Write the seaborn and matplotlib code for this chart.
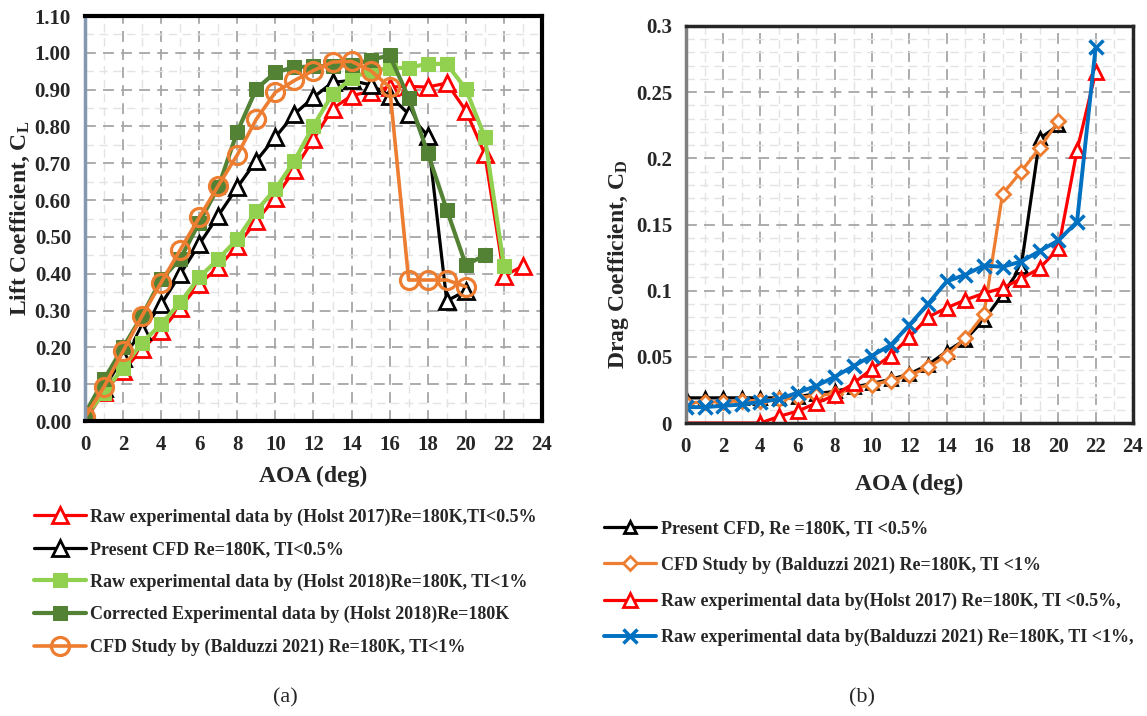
import numpy as np
import pandas as pd
import matplotlib
matplotlib.use('Agg')
import matplotlib.pyplot as plt
from matplotlib.ticker import MultipleLocator, FormatStrFormatter, FuncFormatter
import seaborn as sns

# ---- lift data (a) ----
aoa_holst17 = list(range(0, 24))
cl_holst17 = [0.00, 0.08, 0.136, 0.195, 0.245, 0.308, 0.372, 0.417, 0.476, 0.544, 0.606, 0.683,
              0.766, 0.848, 0.884, 0.895, 0.907, 0.909, 0.907, 0.918, 0.843, 0.725, 0.394, 0.421]
aoa_cfd = list(range(0, 21))
cl_cfd = [0.00, 0.09, 0.172, 0.245, 0.317, 0.399, 0.48, 0.558, 0.635, 0.707, 0.771, 0.834,
          0.879, 0.92, 0.925, 0.913, 0.884, 0.834, 0.775, 0.326, 0.354]
aoa_holst18 = list(range(0, 23))
cl_holst18 = [0.01, 0.077, 0.145, 0.213, 0.263, 0.322, 0.39, 0.44, 0.494, 0.571, 0.63, 0.707,
              0.802, 0.888, 0.931, 0.952, 0.958, 0.96, 0.97, 0.97, 0.902, 0.771, 0.421]
aoa_holst18c = list(range(0, 22))
cl_holst18c = [0.02, 0.113, 0.20, 0.286, 0.385, 0.44, 0.539, 0.635, 0.786, 0.902, 0.947, 0.961,
               0.963, 0.965, 0.967, 0.981, 0.993, 0.878, 0.728, 0.574, 0.424, 0.45]
aoa_bald = list(range(0, 21))
cl_bald = [0.01, 0.093, 0.19, 0.286, 0.376, 0.465, 0.553, 0.639, 0.723, 0.82, 0.893, 0.925,
           0.952, 0.975, 0.977, 0.952, 0.907, 0.383, 0.383, 0.383, 0.365]

# ---- drag data (b) ----
aoa_cd_cfd = list(range(0, 21))
cd_cfd = [0.019, 0.019, 0.019, 0.019, 0.019, 0.019, 0.020, 0.022, 0.024, 0.027, 0.030, 0.033,
          0.037, 0.044, 0.054, 0.063, 0.078, 0.097, 0.118, 0.215, 0.225]
aoa_cd_bald = list(range(0, 21))
cd_bald = [0.015, 0.016, 0.016, 0.017, 0.017, 0.018, 0.019, 0.021, 0.022, 0.026, 0.029, 0.032,
           0.036, 0.042, 0.051, 0.064, 0.082, 0.173, 0.19, 0.208, 0.228]
aoa_cd_holst17 = list(range(0, 23))
cd_holst17 = [0.0, 0.0, 0.0, 0.0, 0.0, 0.005, 0.009, 0.015, 0.021, 0.030, 0.041, 0.051,
              0.065, 0.080, 0.087, 0.093, 0.098, 0.102, 0.109, 0.117, 0.132, 0.206, 0.265]
aoa_cd_baldexp = list(range(0, 23))
cd_baldexp = [0.012, 0.012, 0.013, 0.014, 0.016, 0.018, 0.023, 0.028, 0.035, 0.043, 0.051, 0.059,
              0.074, 0.090, 0.107, 0.112, 0.119, 0.118, 0.122, 0.130, 0.138, 0.152, 0.284]

sns.set_theme(style='white')
plt.rcParams['font.family'] = ['Liberation Serif', 'DejaVu Serif']
plt.rcParams['font.weight'] = 'bold'
plt.rcParams['mathtext.default'] = 'regular'

RED = '#FF0000'
LGREEN = '#92D050'
DGREEN = '#548235'
ORANGE = '#ED7D31'
BLUE = '#0070C0'

fig = plt.figure(figsize=(11.47, 7.16), dpi=100)
ax1 = fig.add_axes([0.0741, 0.412, 0.3984, 0.5656])
ax2 = fig.add_axes([0.598, 0.4092, 0.3897, 0.5545])

lw = 2.3
sns.lineplot(x=aoa_holst17, y=cl_holst17, ax=ax1, color=RED, lw=lw, marker='^', ms=11,
             mfc='white', mec=RED, mew=2, label='Raw experimental data by (Holst 2017)Re=180K,TI<0.5%')
sns.lineplot(x=aoa_cfd, y=cl_cfd, ax=ax1, color='black', lw=lw, marker='^', ms=11,
             mfc='white', mec='black', mew=2, label='Present CFD Re=180K, TI<0.5%')
sns.lineplot(x=aoa_holst18, y=cl_holst18, ax=ax1, color=LGREEN, lw=lw + 0.7, marker='s', ms=9.5,
             mfc=LGREEN, mec=LGREEN, label='Raw experimental data by (Holst 2018)Re=180K, TI<1%')
sns.lineplot(x=aoa_holst18c, y=cl_holst18c, ax=ax1, color=DGREEN, lw=lw + 0.7, marker='s', ms=9.5,
             mfc=DGREEN, mec=DGREEN, label='Corrected Experimental data by (Holst 2018)Re=180K')
sns.lineplot(x=aoa_bald, y=cl_bald, ax=ax1, color=ORANGE, lw=lw + 0.3, marker='o', ms=13,
             mfc='none', mec=ORANGE, mew=2.3, label='CFD Study by (Balduzzi 2021) Re=180K, TI<1%')

sns.lineplot(x=aoa_cd_cfd, y=cd_cfd, ax=ax2, color='black', lw=lw, marker='^', ms=9,
             mfc='white', mec='black', mew=2, label='Present CFD, Re =180K, TI <0.5%')
sns.lineplot(x=aoa_cd_bald, y=cd_bald, ax=ax2, color=ORANGE, lw=lw, marker='D', ms=7,
             mfc='white', mec=ORANGE, mew=2, label='CFD Study by (Balduzzi 2021) Re=180K, TI <1%')
sns.lineplot(x=aoa_cd_holst17, y=cd_holst17, ax=ax2, color=RED, lw=lw, marker='^', ms=10,
             mfc='white', mec=RED, mew=2, markevery=list(range(4, 23)),
             label='Raw experimental data by(Holst 2017) Re=180K, TI <0.5%,')
sns.lineplot(x=aoa_cd_baldexp, y=cd_baldexp, ax=ax2, color=BLUE, lw=lw + 0.5, marker='x', ms=10,
             mec=BLUE, mew=2.5, label='Raw experimental data by(Balduzzi 2021) Re=180K, TI <1%,')

# axes 1
ax1.set_xlim(0, 24)
ax1.set_ylim(0, 1.10)
ax1.xaxis.set_major_locator(MultipleLocator(2))
ax1.xaxis.set_minor_locator(MultipleLocator(1))
ax1.yaxis.set_major_locator(MultipleLocator(0.1))
ax1.yaxis.set_minor_locator(MultipleLocator(0.05))
ax1.yaxis.set_major_formatter(FormatStrFormatter('%.2f'))
ax1.set_ylabel('Lift Coefficient, C$_L$', fontsize=17, fontweight='bold', labelpad=2)

# axes 2
ax2.set_xlim(0, 24)
ax2.set_ylim(0, 0.3)
ax2.xaxis.set_major_locator(MultipleLocator(2))
ax2.xaxis.set_minor_locator(MultipleLocator(1))
ax2.yaxis.set_major_locator(MultipleLocator(0.05))
ax2.yaxis.set_minor_locator(MultipleLocator(0.01))
ax2.yaxis.set_major_formatter(FuncFormatter(lambda v, p: '0' if abs(v) < 1e-9 else ('%.2f' % v).rstrip('0')))
ax2.set_ylabel('Drag Coefficient, C$_D$', fontsize=17, fontweight='bold')

for ax in (ax1, ax2):
    ax.grid(which='major', color='#a6a6a6', ls=(0, (6, 4)), lw=1.3)
    ax.grid(which='minor', color='#e3e3e3', ls=(0, (6, 4)), lw=1.0)
    ax.set_axisbelow(True)
    ax.tick_params(which='both', length=0, labelsize=15, pad=10)
    for t in ax.get_xticklabels() + ax.get_yticklabels():
        t.set_fontweight('bold')
    ax.legend_.remove()

ax1.set_xlabel('AOA (deg)', fontsize=17, fontweight='bold', labelpad=8)
ax2.set_xlabel('AOA (deg)', fontsize=17, fontweight='bold', labelpad=12)
ax2.yaxis.set_label_coords(-0.122, 0.40)

for s in ax1.spines.values():
    s.set_color('black')
    s.set_linewidth(3)
ax1.spines['left'].set_color('#8497b0')
ax1.spines['left'].set_linewidth(2.5)
for s in ax2.spines.values():
    s.set_color('#262626')
    s.set_linewidth(2.5)
ax2.spines['left'].set_color('#7f7f7f')

h1, l1 = ax1.get_legend_handles_labels()
fig.legend(h1, l1, loc='upper left', bbox_to_anchor=(0.023, 0.300), frameon=False,
           prop={'family': 'Liberation Serif', 'weight': 'bold', 'size': 13},
           handlelength=2.9, handletextpad=0.25, labelspacing=0.85, borderaxespad=0)
h2, l2 = ax2.get_legend_handles_labels()
fig.legend(h2, l2, loc='upper left', bbox_to_anchor=(0.52, 0.283), frameon=False,
           prop={'family': 'Liberation Serif', 'weight': 'bold', 'size': 13},
           handlelength=2.9, handletextpad=0.25, labelspacing=1.05, borderaxespad=0)

fig.text(285 / 1147, 1 - 698 / 716, '(a)', ha='center', va='center', fontsize=16, fontweight='normal')
fig.text(862 / 1147, 1 - 698 / 716, '(b)', ha='center', va='center', fontsize=16, fontweight='normal')

fig.savefig('out.png', dpi=100)
